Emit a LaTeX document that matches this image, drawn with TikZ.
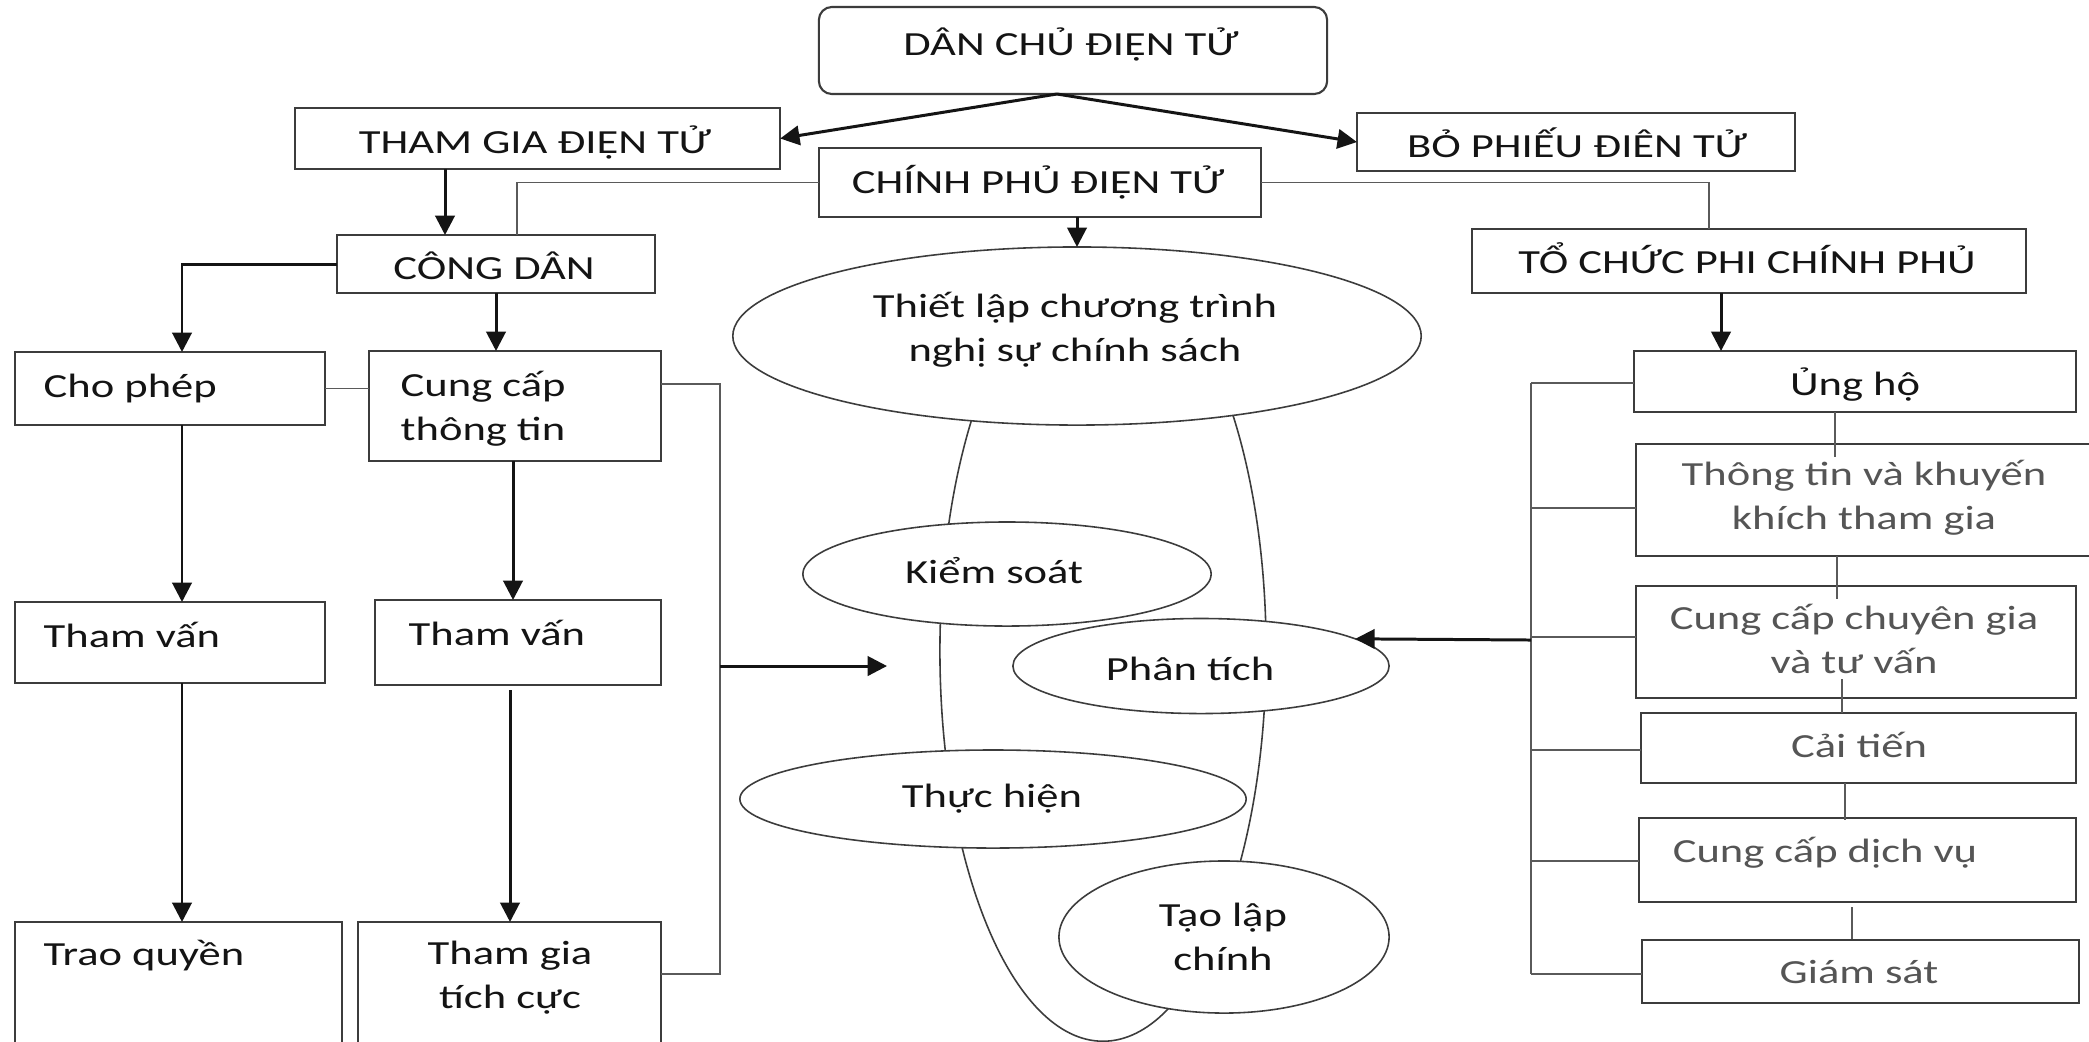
\documentclass[tikz,border=0pt]{standalone}
\usepackage{fontspec}
\setmainfont{Carlito}[FakeStretch=1.32]
\usetikzlibrary{arrows.meta,shapes.geometric,calc}
\definecolor{boxc}{RGB}{60,60,60}
\definecolor{lnc}{RGB}{90,90,90}
\definecolor{txtg}{RGB}{85,85,85}
\definecolor{txtk}{RGB}{20,20,20}
\begin{document}
\begin{tikzpicture}[x=0.01cm,y=-0.01cm,
  font=\fontsize{9.6}{12.4}\selectfont,
  box/.style={draw=boxc,line width=0.6pt,rectangle,inner sep=0pt,outer sep=0pt},
  ell/.style={draw=boxc,line width=0.45pt,ellipse,fill=white,inner sep=0pt,outer sep=0pt},
  txt/.style={text=txtk,inner sep=0pt,anchor=base,align=center},
  txtl/.style={text=txtk,inner sep=0pt,anchor=base west,align=left},
  txtr/.style={text=txtg,inner sep=0pt,anchor=base,align=center},
  arr/.style={draw=txtk,line width=0.85pt,-{Triangle[length=5.5pt,width=5.5pt]}},
  ln/.style={draw=lnc,line width=0.5pt},
]
\clip (0,0) rectangle (2089,1041);
\useasboundingbox (0,0) rectangle (2089,1041);
\fill[white] (0,0) rectangle (2089,1041);

% ---- boxes ----
\node[box,rounded corners=0.13cm,minimum width=5.08cm,minimum height=0.87cm] (dcdt) at (1073,50.5) {};
\node[box,minimum width=4.85cm,minimum height=0.61cm] (tg) at (537.5,138.5) {};
\node[box,minimum width=4.38cm,minimum height=0.58cm] (bp) at (1576,142) {};
\node[box,minimum width=4.42cm,minimum height=0.69cm] (cp) at (1040,182.5) {};
\node[box,minimum width=3.18cm,minimum height=0.58cm] (cd) at (496,264) {};
\node[box,minimum width=5.54cm,minimum height=0.64cm] (tc) at (1749,261) {};
\node[box,minimum width=3.10cm,minimum height=0.73cm] (cho) at (170,388.5) {};
\node[box,minimum width=2.92cm,minimum height=1.10cm] (ccap) at (515,406) {};
\node[box,minimum width=3.10cm,minimum height=0.81cm] (tv1) at (170,642.5) {};
\node[box,minimum width=2.86cm,minimum height=0.85cm] (tv2) at (518,642.5) {};
\node[box,minimum width=3.27cm,minimum height=1.48cm] (trao) at (178.5,996) {};
\node[box,minimum width=3.03cm,minimum height=1.48cm] (tgc) at (509.5,996) {};
\node[box,minimum width=4.42cm,minimum height=0.61cm] (ung) at (1855,381.5) {};
\node[box,minimum width=4.59cm,minimum height=1.12cm] (tt) at (1865.5,500) {};
\node[box,minimum width=4.40cm,minimum height=1.12cm] (cg) at (1856,642) {};
\node[box,minimum width=4.35cm,minimum height=0.70cm] (ct) at (1858.5,748) {};
\node[box,minimum width=4.37cm,minimum height=0.84cm] (dv) at (1857.5,860) {};
\node[box,minimum width=4.37cm,minimum height=0.63cm] (gs) at (1860.5,971.5) {};

% ---- ellipses ----
\node[ell,minimum width=3.26cm,minimum height=7.8cm] (big) at (1103,651) {};
\node[ell,minimum width=6.88cm,minimum height=1.78cm] (tl) at (1077,336) {};
\node[ell,minimum width=4.08cm,minimum height=1.04cm] (ks) at (1007,574) {};
\node[ell,minimum width=3.76cm,minimum height=0.95cm] (pt) at (1201,666) {};
\node[ell,minimum width=5.06cm,minimum height=0.98cm] (th) at (993,799) {};
\node[ell,minimum width=3.30cm,minimum height=1.52cm] (tlc) at (1224,937) {};

% ---- texts (multi-line nodes are placed at the baseline of their last line) ----
\node[txt] (t-dcdt) at (1071,55) {DÂN CHỦ ĐIỆN TỬ};
\node[txt] (t-tg) at (535,153) {THAM GIA ĐIỆN TỬ};
\node[txt] (t-bp) at (1577,157) {BỎ PHIẾU ĐIÊN TỬ};
\node[txt] (t-cp) at (1038,193) {CHÍNH PHỦ ĐIỆN TỬ};
\node[txt] (t-cd) at (494,279) {CÔNG DÂN};
\node[txt] (t-tc) at (1747,273) {TỔ CHỨC PHI CHÍNH PHỦ};
\node[txtl] (t-cho) at (43,397) {Cho phép};
\node[txtl] (t-ccap) at (400,440) {Cung cấp\\thông tin};
\node[txtl] (t-tv1) at (43,647) {Tham vấn};
\node[txtl] (t-tv2) at (408,645) {Tham vấn};
\node[txtl] (t-trao) at (43,965) {Trao quyền};
\node[txt] (t-tgc) at (510,1008) {Tham gia\\tích cực};
\node[txt] (t-tl) at (1075,361) {Thiết lập chương trình\\nghị sự chính sách};
\node[txt] (t-ks) at (994,583) {Kiểm soát};
\node[txt] (t-pt) at (1190,680) {Phân tích};
\node[txt] (t-th) at (992,807) {Thực hiện};
\node[txt] (t-tlc) at (1223,970) {Tạo lập\\chính};
\node[txt] (t-ung) at (1855,395) {Ủng hộ};
\node[txtr] (t-tt) at (1864,529) {Thông tin và khuyến\\khích tham gia};
\node[txtr] (t-cg) at (1854,673) {Cung cấp chuyên gia\\và tư vấn};
\node[txtr] (t-ct) at (1859,757) {Cải tiến};
\node[txtr] (t-dv) at (1825,862) {Cung cấp dịch vụ};
\node[txtr] (t-gs) at (1859,983) {Giám sát};

% ---- helper coordinates ----
\coordinate (dsp) at (1057,94);
\coordinate (x445) at (445,0);
\coordinate (x517) at (517,0);
\coordinate (x1709) at (1709,0);
\coordinate (x182) at (182,0);
\coordinate (x513) at (513,0);
\coordinate (x1721) at (1721,0);
\coordinate (tvs) at (510,690);
\coordinate (lbt) at (720,384);
\coordinate (lbb) at (720,974);
\coordinate (lbm) at (720,666);
\coordinate (lbtip) at (887,666);
\coordinate (rbt) at (1531,383);
\coordinate (rb2) at (1531,508);
\coordinate (rb3) at (1531,637);
\coordinate (rb4) at (1531,750);
\coordinate (rb5) at (1531,861);
\coordinate (rbb) at (1531,974);
\coordinate (rbm) at (1531,640);

% ---- connectors ----
\draw[arr] (dsp) -- (tg.east);
\draw[arr] (dsp) -- (bp.west);
\draw[arr] (tg.south -| x445) -- (cd.north -| x445);
\draw[ln] (cp.west) -| (cd.north -| x517);
\draw[ln] (cp.east) -| (tc.north -| x1709);
\draw[arr] (cp.south -| tl.north) -- (tl.north);
\draw[arr] (cd.west) -| (cho.north -| x182);
\draw[arr] (cd.south) -- (cd.south |- ccap.north);
\draw[ln] (cho.east) -- (cho.east -| ccap.west);
\draw[ln] (lbt -| ccap.east) -- (lbt) -- (lbb) -- (lbb -| tgc.east);
\draw[arr] (lbm) -- (lbtip);
\draw[arr] (cho.south -| x182) -- (tv1.north -| x182);
\draw[arr] (ccap.south -| x513) -- (tv2.north -| x513);
\draw[arr] (tv1.south -| x182) -- (trao.north -| x182);
\draw[arr] (tvs) -- (tvs |- tgc.north);
\draw[arr] (tc.south -| x1721) -- (ung.north -| x1721);
\draw[ln] (rbt) -- (rbb);
\draw[ln] (rbt) -- (rbt -| ung.west);
\draw[ln] (rb2) -- (rb2 -| tt.west);
\draw[ln] (rb3) -- (rb3 -| cg.west);
\draw[ln] (rb4) -- (rb4 -| ct.west);
\draw[ln] (rb5) -- (rb5 -| dv.west);
\draw[ln] (rbb) -- (rbb -| gs.west);
\draw[arr] (rbm) -- (pt.10);
\draw[ln] ([xshift=-0.20cm]ung.south) -- ++(0,45);
\draw[ln] ([xshift=-0.285cm]tt.south) -- ++(0,43);
\draw[ln] ([xshift=-0.14cm,yshift=0.19cm]cg.south) -- ++(0,34);
\draw[ln] ([xshift=-0.135cm]ct.south) -- ++(0,37);
\draw[ln] ([xshift=-0.055cm,yshift=-0.05cm]dv.south) -- ++(0,32);
\end{tikzpicture}
\end{document}
